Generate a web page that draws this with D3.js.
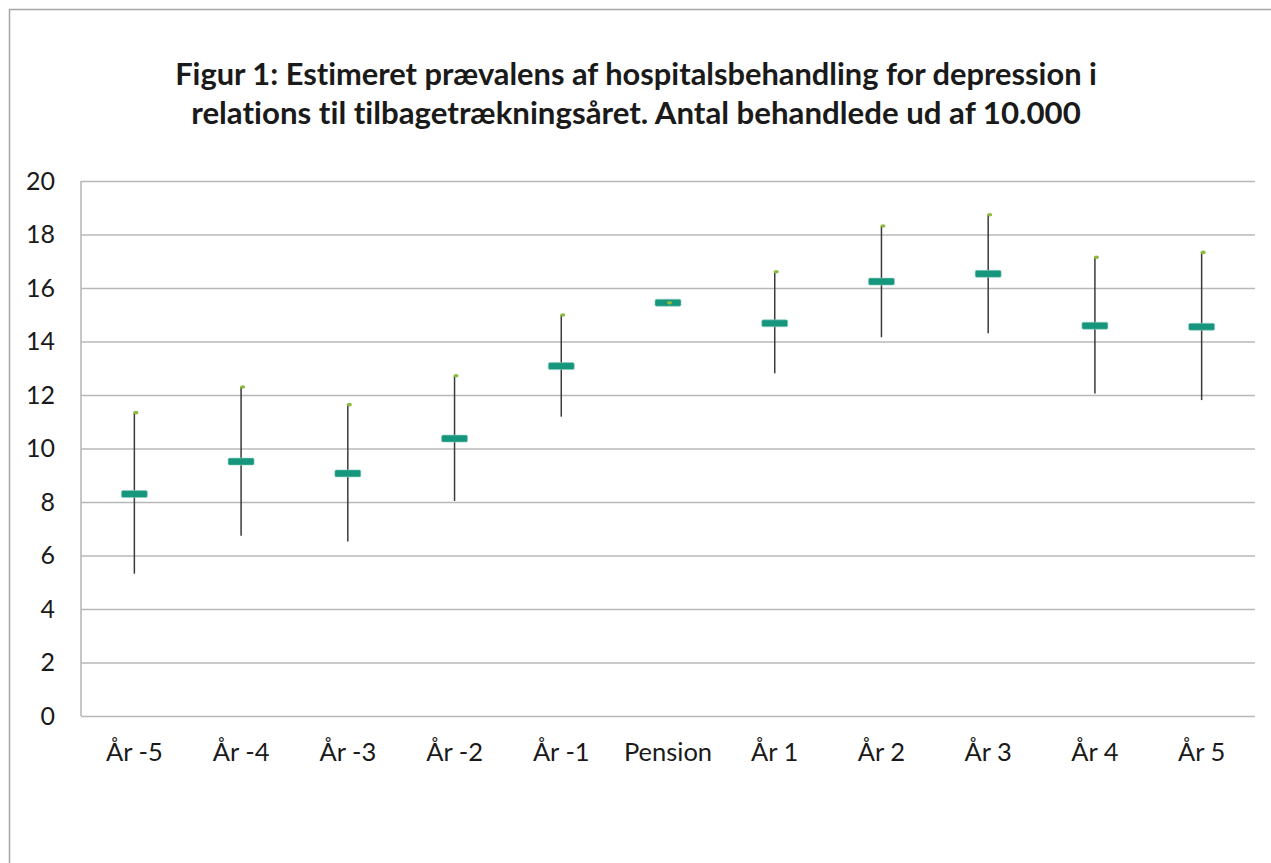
<!DOCTYPE html>
<html>
<head>
<meta charset="utf-8">
<script src="https://cdn.jsdelivr.net/npm/d3@7"></script>
<style>
  body { margin: 0; background: #fff; }
  svg { display: block; }
  svg text { font-variant-ligatures: none; font-feature-settings: "liga" 0, "clig" 0, "dlig" 0; }
</style>
</head>
<body>
<div id="chart"></div>
<script>
const categories = ['År -5', 'År -4', 'År -3', 'År -2', 'År -1', 'Pension', 'År 1', 'År 2', 'År 3', 'År 4', 'År 5'];
const estimate = [8.30, 9.51, 9.07, 10.37, 13.08, 15.45, 14.68, 16.24, 16.53, 14.59, 14.55];
const upper = [11.34, 12.30, 11.64, 12.72, 14.99, 15.45, 16.61, 18.32, 18.74, 17.15, 17.33];
const lower = [5.32, 6.74, 6.52, 8.04, 11.19, 15.45, 12.81, 14.16, 14.31, 12.06, 11.81];
const yTicks = [0, 2, 4, 6, 8, 10, 12, 14, 16, 18, 20];
const titleLines = [
  'Figur 1: Estimeret prævalens af hospitalsbehandling for depression i',
  'relations til tilbagetrækningsåret. Antal behandlede ud af 10.000'
];

const width = 1271, height = 863;
const margin = { left: 81, right: 16, top: 181, bottom: 147 };

const svg = d3.select('#chart')
  .append('svg')
  .attr('width', width)
  .attr('height', height);

// outer chart border (cut off at right/bottom like the source)
svg.append('rect')
  .attr('x', 9.5).attr('y', 9.5)
  .attr('width', 1400).attr('height', 1000)
  .attr('fill', 'none')
  .attr('stroke', '#a6a6a6')
  .attr('stroke-width', 1.5);

const title = svg.append('g')
  .attr('font-family', 'Lato, "Open Sans", sans-serif')
  .attr('font-weight', 'bold')
  .attr('fill', '#1a1a1a');

const titleWidths = [922, 890];
titleLines.forEach((line, i) => {
  const t = title.append('text')
    .attr('x', 636)
    .attr('y', 85 + i * 39)
    .attr('text-anchor', 'middle')
    .attr('font-size', 28)
    .text(line);
  const w = t.node().getComputedTextLength();
  t.attr('font-size', 28 * titleWidths[i] / w);
});

const x = d3.scaleBand()
  .domain(categories)
  .range([margin.left, width - margin.right]);

const y = d3.scaleLinear()
  .domain([0, 20])
  .range([height - margin.bottom, margin.top]);

// gridlines + y labels
const yAxis = svg.append('g')
  .attr('transform', `translate(${margin.left},0)`)
  .call(d3.axisLeft(y).tickValues(yTicks).tickSize(-(width - margin.right - margin.left)).tickPadding(26));

yAxis.select('.domain').remove();
yAxis.selectAll('.tick line')
  .attr('stroke', '#b8b8b8')
  .attr('stroke-width', 1.6);
yAxis.selectAll('.tick text')
  .attr('font-family', 'Lato, "Open Sans", sans-serif')
  .attr('font-size', 25)
  .attr('fill', '#1a1a1a');

// y axis line
svg.append('line')
  .attr('x1', margin.left).attr('x2', margin.left)
  .attr('y1', y(20)).attr('y2', y(0))
  .attr('stroke', '#b8b8b8')
  .attr('stroke-width', 1.6);

// x labels
const xAxis = svg.append('g')
  .attr('transform', `translate(0,${y(0)})`)
  .call(d3.axisBottom(x).tickSize(0).tickPadding(27));
xAxis.select('.domain').remove();
xAxis.selectAll('.tick text')
  .attr('font-family', 'Lato, "Open Sans", sans-serif')
  .attr('font-size', 25.5)
  .attr('fill', '#1a1a1a');

const rows = categories.map((c, i) => ({ c, est: estimate[i], hi: upper[i], lo: lower[i] }));
const cx = d => x(d.c) + x.bandwidth() / 2;

const marks = svg.append('g').selectAll('g').data(rows).enter().append('g');

marks.append('line')
  .attr('x1', cx).attr('x2', cx)
  .attr('y1', d => y(d.hi))
  .attr('y2', d => y(d.lo))
  .attr('stroke', '#3a3a3a')
  .attr('stroke-width', 1.5);

marks.append('rect')
  .attr('x', d => cx(d) - 13)
  .attr('y', d => y(d.est) - 3.5)
  .attr('width', 26)
  .attr('height', 7)
  .attr('rx', 1.5)
  .attr('fill', '#17967e')
  .attr('stroke', '#8fcfbf')
  .attr('stroke-width', 0.6);

marks.append('ellipse')
  .attr('cx', d => cx(d) + 1.5)
  .attr('cy', d => y(d.hi))
  .attr('rx', 2.6)
  .attr('ry', 1.8)
  .attr('fill', '#8dbb3c');
</script>
</body>
</html>
